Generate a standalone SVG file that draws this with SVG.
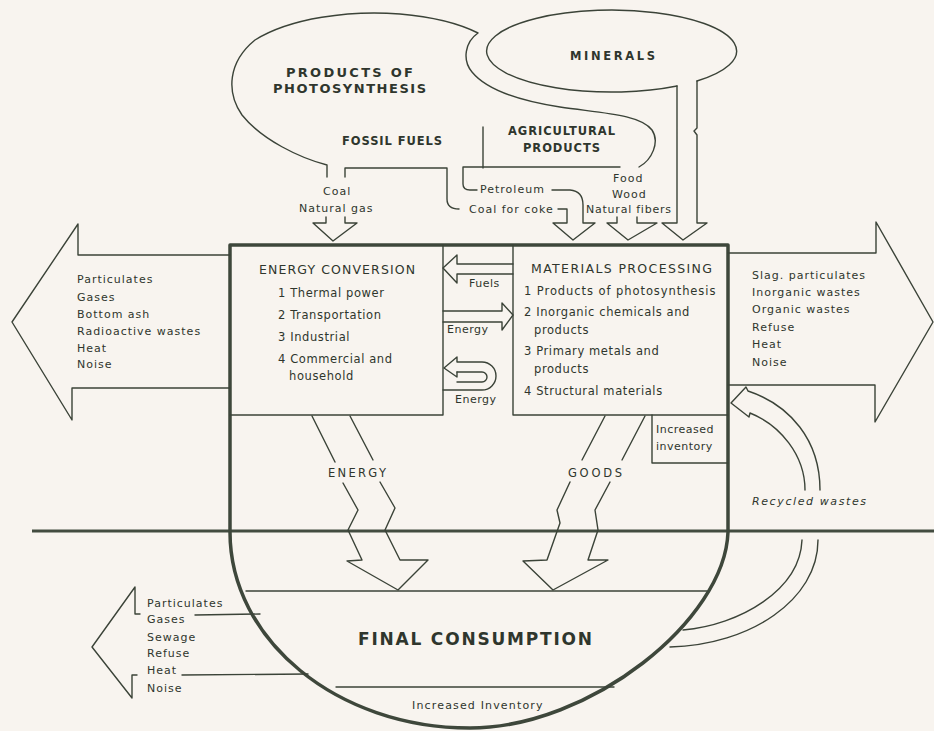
<svg xmlns="http://www.w3.org/2000/svg" width="934" height="731" viewBox="0 0 934 731">
<style>
.ln{fill:none;stroke:#3b4338;stroke-width:1.4;stroke-linejoin:round;stroke-linecap:round}
.tk{fill:none;stroke:#3e473b;stroke-width:3.5;stroke-linejoin:round}
.gr{fill:none;stroke:#434c40;stroke-width:2.8}
.t{font-family:"DejaVu Sans","Liberation Sans",sans-serif;font-size:11px;letter-spacing:1px;fill:#2f362d}
.b{font-family:"DejaVu Sans","Liberation Sans",sans-serif;font-size:11.5px;letter-spacing:0.6px;fill:#2f362d}
.h{font-family:"DejaVu Sans","Liberation Sans",sans-serif;font-size:13px;font-weight:bold;fill:#2f362d}
.r{font-family:"DejaVu Sans","Liberation Sans",sans-serif;font-size:12.5px;fill:#2f362d}
</style>
<rect width="934" height="731" fill="#f8f4ef"/>

<g id="ground-line"><path class="gr" d="M32,531 L934,531"/></g>

<g id="products-of-photosynthesis">
<path class="ln" d="M327,177 L327,165 C300,158 262,140 242,115 C226,92 228,62 255,40 C290,18 350,10 400,14 C435,17 460,24 478,33 C465,42 462,60 472,72 C485,88 515,100 560,107 C600,113 640,114 652,130 C660,142 652,160 639,167"/>
<path class="ln" d="M345,177 L345,168 L447,168 L447,199 Q447,209 459,209"/>
<path class="ln" d="M483,127 L483,168"/>
<path class="ln" d="M620,167 L463,167 L463,184 Q463,190 470,190 L477,190"/>
<text class="h" x="286" y="77" textLength="127">PRODUCTS OF</text>
<text class="h" x="273" y="93" textLength="153">PHOTOSYNTHESIS</text>
<text class="h" x="342" y="145" style="font-size:11.5px" textLength="100">FOSSIL FUELS</text>
<text class="h" x="508" y="135" style="font-size:11.5px" textLength="107">AGRICULTURAL</text>
<text class="h" x="523" y="152" style="font-size:11.5px" textLength="77">PRODUCTS</text>
<text class="t" x="323" y="195">Coal</text>
<text class="t" x="299" y="212">Natural gas</text>
<text class="t" x="480" y="193">Petroleum</text>
<text class="t" x="469" y="213">Coal for coke</text>
<text class="t" x="613" y="182">Food</text>
<text class="t" x="612" y="198">Wood</text>
<text class="t" x="586" y="213" textLength="86">Natural fibers</text>
</g>

<g id="minerals">
<path class="ln" d="M677,86 A125,41 0 1 1 697,81"/>
<text class="h" x="570" y="60" style="font-size:11.5px" textLength="85">MINERALS</text>
</g>

<g id="frame">
<path class="tk" d="M230,532 L230,245 L728,245 L728,532"/>
</g>

<g id="energy-conversion">
<path class="ln" d="M443,245 L443,415 L230,415"/>
<text class="r" x="259" y="274" textLength="156">ENERGY CONVERSION</text>
<text class="b" x="278" y="297">1 Thermal power</text>
<text class="b" x="278" y="319">2 Transportation</text>
<text class="b" x="278" y="341">3 Industrial</text>
<text class="b" x="278" y="363">4 Commercial and</text>
<text class="b" x="289" y="380">household</text>
</g>

<g id="materials-processing">
<path class="ln" d="M513,245 L513,415 L728,415"/>
<text class="r" x="531" y="273" textLength="181">MATERIALS PROCESSING</text>
<text class="b" x="524" y="295" textLength="192">1 Products of photosynthesis</text>
<text class="b" x="524" y="316">2 Inorganic chemicals and</text>
<text class="b" x="534" y="334">products</text>
<text class="b" x="524" y="355">3 Primary metals and</text>
<text class="b" x="534" y="373">products</text>
<text class="b" x="524" y="395">4 Structural materials</text>
</g>

<g id="increased-inventory-box">
<path class="ln" d="M652,415 L652,463 L728,463"/>
<text class="t" x="656" y="433" style="letter-spacing:0.5px">Increased</text>
<text class="t" x="656" y="450" style="letter-spacing:0.5px">inventory</text>
</g>

<g id="final-consumption">
<path class="tk" d="M230,532 C230,640 337,728 470,728 C590,728 725,620 728,532"/>
<path class="ln" d="M246,591 L707,591"/>
<path class="ln" d="M336,687 L614,687"/>
<text class="h" x="358" y="645" style="font-size:17px" textLength="234">FINAL CONSUMPTION</text>
<text class="t" x="412" y="709" style="letter-spacing:0.5px" textLength="131">Increased Inventory</text>
</g>

<g id="left-emissions">
<path class="ln" d="M230,255 L78,255 L78,224 L12,322 L72,420 L72,388 L230,388"/>
<text class="t" x="77" y="283">Particulates</text>
<text class="t" x="77" y="301">Gases</text>
<text class="t" x="77" y="318">Bottom ash</text>
<text class="t" x="77" y="335">Radioactive wastes</text>
<text class="t" x="77" y="352">Heat</text>
<text class="t" x="77" y="368">Noise</text>
</g>

<g id="right-emissions">
<path class="ln" d="M728,253 L876,253 L876,222 L933,322 L875,422 L875,385 L728,385"/>
<text class="t" x="752" y="279">Slag. particulates</text>
<text class="t" x="752" y="296">Inorganic wastes</text>
<text class="t" x="752" y="313">Organic wastes</text>
<text class="t" x="752" y="331">Refuse</text>
<text class="t" x="752" y="348">Heat</text>
<text class="t" x="752" y="366">Noise</text>
</g>

<g id="consumption-emissions">
<path class="ln" d="M140,614 L135,614 L135,587 L92,647 L132,698 L132,675 L137,675"/>
<path class="ln" d="M195,615 L260,614"/>
<path class="ln" d="M182,675 L308,674"/>
<text class="t" x="147" y="607">Particulates</text>
<text class="t" x="147" y="623">Gases</text>
<text class="t" x="147" y="641">Sewage</text>
<text class="t" x="147" y="657">Refuse</text>
<text class="t" x="147" y="674">Heat</text>
<text class="t" x="147" y="692">Noise</text>
</g>

<g id="connectors">
<path class="ln" d="M326,217 L326,223 L313,223 L333,241 L357,223 L345,223 L345,217"/>
<path class="ln" d="M558,209 L567,209 L567,223 L553,223 L573,240 L595,223 L583,223 L583,205 Q583,191 570,190 L552,190"/>
<path class="ln" d="M617,217 L617,223 L607,223 L628,240 L657,223 L637,223 L637,217"/>
<path class="ln" d="M677,86 L677,223 L662,223 L683,240 L707,223 L697,223 L697,135 L694,131 L697,128 L697,81"/>
<path class="ln" d="M513,264 L457,264 L457,255 L443,268 L457,283 L457,274 L513,274"/>
<text class="t" x="469" y="287" style="letter-spacing:0.5px">Fuels</text>
<path class="ln" d="M443,311 L502,311 L502,303 L513,315 L502,330 L502,322 L443,322"/>
<text class="t" x="447" y="333" style="letter-spacing:0.5px">Energy</text>
<path class="ln" d="M457,372 L457,377 L444,368 L457,357 L457,362 L482,362 A14,14 0 0 1 482,390 L443,390"/>
<path class="ln" d="M457,372 L482,372 A5,5 0 0 1 482,382 L457,382"/>
<text class="t" x="455" y="403" style="letter-spacing:0.5px">Energy</text>
<path class="ln" d="M312,416 L335,462 M350,416 L373,460"/>
<path class="ln" d="M343,483 L358,510 L348,530 L362,560 L347,561 L398,590 L428,560 L400,560 L385,530 L395,508 L380,482"/>
<text class="r" x="328" y="477" style="font-size:11.5px" textLength="58">ENERGY</text>
<path class="ln" d="M605,416 L582,460 M645,416 L622,460"/>
<path class="ln" d="M570,482 L557,510 L560,523 L547,560 L523,561 L553,590 L608,560 L588,560 L598,530 L595,510 L610,482"/>
<text class="r" x="568" y="477" style="font-size:11.5px" textLength="54">GOODS</text>
<path class="ln" d="M820,490 C820,440 790,405 748,391 L746,387 L731,403 L749,417 L750,413 C780,425 805,455 805,490"/>
<text class="t" x="752" y="505" style="font-style:italic" textLength="115">Recycled wastes</text>
<path class="ln" d="M683,630 C740,625 800,590 802,540"/>
<path class="ln" d="M670,647 C750,645 818,600 818,540"/>
</g>
</svg>
